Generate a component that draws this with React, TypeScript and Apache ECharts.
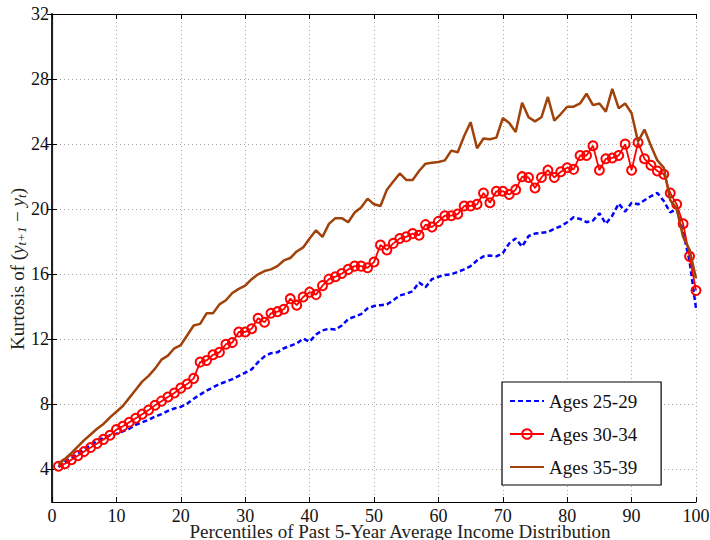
import React, { useEffect, useRef } from "react";
import * as echarts from "echarts";

// Percentile positions of the past 5-year average income distribution
const percentiles: number[] = Array.from({ length: 100 }, (_, i) => i + 1);

// Kurtosis of (y_{t+1} - y_t) by age group
const ages25to29: number[] = [
  4.15, 4.45, 4.7, 4.95, 5.25, 5.5, 5.75, 5.95, 6.1, 6.2,
  6.35, 6.5, 6.75, 6.9, 7.05, 7.25, 7.4, 7.6, 7.75, 7.85,
  8.05, 8.35, 8.6, 8.85, 9.05, 9.25, 9.4, 9.55, 9.75, 9.95,
  10.15, 10.6, 10.95, 11.15, 11.2, 11.45, 11.6, 11.75, 12.05, 11.85,
  12.3, 12.55, 12.65, 12.6, 12.85, 13.25, 13.4, 13.55, 13.9, 14.05,
  14.1, 14.15, 14.4, 14.7, 14.8, 14.95, 15.5, 15.2, 15.7, 15.85,
  15.95, 16.0, 16.15, 16.3, 16.5, 16.85, 17.1, 17.15, 17.1, 17.3,
  17.9, 18.2, 17.7, 18.35, 18.5, 18.55, 18.6, 18.8, 18.95, 19.2,
  19.5, 19.4, 19.2, 19.3, 19.75, 19.1, 19.6, 20.35, 19.85, 20.4,
  20.3, 20.55, 20.8, 21.0, 20.5, 19.8, 20.0, 18.6, 16.8, 13.9,
];

const ages30to34: number[] = [
  4.2, 4.35, 4.6, 4.85, 5.1, 5.35, 5.6, 5.85, 6.1, 6.45,
  6.65, 6.9, 7.15, 7.4, 7.65, 7.95, 8.2, 8.45, 8.7, 9.0,
  9.25, 9.6, 10.6, 10.7, 11.05, 11.2, 11.7, 11.8, 12.45, 12.45,
  12.65, 13.3, 13.05, 13.6, 13.7, 13.85, 14.5, 14.1, 14.6, 14.9,
  14.75, 15.3, 15.7, 15.85, 16.05, 16.3, 16.5, 16.5, 16.4, 16.75,
  17.8, 17.5, 17.9, 18.2, 18.3, 18.5, 18.4, 19.05, 18.9, 19.25,
  19.6, 19.6, 19.7, 20.2, 20.2, 20.3, 21.0, 20.4, 21.1, 21.1,
  20.9, 21.2, 22.0, 21.95, 21.3, 21.95, 22.4, 21.95, 22.3, 22.55,
  22.45, 23.3, 23.3, 23.9, 22.4, 23.1, 23.15, 23.3, 24.0, 22.4,
  24.1, 23.1, 22.7, 22.35, 22.15, 21.0, 20.3, 19.1, 17.1, 15.0,
];

const ages35to39: number[] = [
  4.3, 4.65, 5.0, 5.4, 5.8, 6.15, 6.5, 6.8, 7.2, 7.55,
  7.9, 8.4, 8.9, 9.4, 9.75, 10.2, 10.75, 11.0, 11.45, 11.65,
  12.25, 12.85, 12.95, 13.6, 13.6, 14.15, 14.4, 14.85, 15.1, 15.3,
  15.7, 16.0, 16.2, 16.3, 16.5, 16.85, 17.0, 17.4, 17.65, 18.2,
  18.7, 18.3, 19.1, 19.45, 19.45, 19.2, 19.8, 20.1, 20.65, 20.3,
  20.2, 21.2, 21.7, 22.2, 21.8, 21.8, 22.35, 22.8, 22.85, 22.9,
  23.0, 23.6, 23.5, 24.5, 25.35, 23.75, 24.35, 24.3, 24.4, 25.6,
  25.3, 24.75, 26.55, 25.65, 25.4, 25.65, 26.9, 25.45, 25.85, 26.3,
  26.3, 26.5, 27.1, 26.4, 26.5, 26.0, 27.4, 26.2, 26.5, 25.9,
  24.15, 24.9, 23.9, 23.0, 22.55, 20.55, 20.05, 18.3, 17.5, 15.75,
];

const seriesNames = ["Ages 25-29", "Ages 30-34", "Ages 35-39"];
const yTickValues = [4, 8, 12, 16, 20, 24, 28, 32];

const FONT = "'Liberation Serif', serif";

const pairs = (ys: number[]) => ys.map((y, i) => [percentiles[i], y]);

export default function App() {
  const ref = useRef<HTMLDivElement>(null);

  useEffect(() => {
    if (!ref.current) return;
    const chart = echarts.init(ref.current, undefined, { renderer: "svg" });

    const dotted = { color: "#a8a8a8", width: 1, type: [1, 3] as number[] };
    const axisLine = { show: true, lineStyle: { color: "#000", width: 1.2 } };
    const inwardTick = { show: true, inside: true, length: 5, lineStyle: { color: "#000", width: 1 } };
    const noMarker = { color: "rgba(0,0,0,0)", borderWidth: 0, opacity: 0 };

    chart.setOption({
      animation: false,
      backgroundColor: "#fff",
      textStyle: { fontFamily: FONT },
      grid: { left: 52, right: 14, top: 14, bottom: 38, containLabel: false, outerBoundsMode: "none" },
      legend: {
        data: [
          { name: seriesNames[0], itemStyle: noMarker },
          { name: seriesNames[1] },
          { name: seriesNames[2], itemStyle: noMarker },
        ],
        orient: "vertical",
        left: 502,
        top: 382,
        backgroundColor: "#fff",
        borderColor: "#000",
        borderWidth: 1.2,
        borderRadius: 0,
        padding: [9, 24, 8, 7],
        itemWidth: 34,
        itemHeight: 12,
        itemGap: 13,
        textStyle: { fontFamily: FONT, fontSize: 19, color: "#111", lineHeight: 20 },
      },
      xAxis: [
        {
          type: "value",
          min: 0,
          max: 100,
          interval: 10,
          position: "bottom",
          name: "Percentiles of Past 5-Year Average Income Distribution",
          nameLocation: "middle",
          nameGap: 21,
          nameMoveOverlap: false,
          nameTextStyle: {
            fontFamily: FONT,
            fontSize: 19,
            lineHeight: 17,
            color: "#222",
            padding: [0, 0, 0, 52],
          },
          axisLine,
          axisTick: inwardTick,
          axisLabel: { fontFamily: FONT, fontSize: 18, lineHeight: 15, color: "#111", margin: 6 },
          splitLine: { show: true, lineStyle: dotted },
        },
        {
          type: "value",
          min: 0,
          max: 100,
          interval: 10,
          position: "top",
          axisLine,
          axisTick: inwardTick,
          axisLabel: { show: false },
          splitLine: { show: false },
        },
      ],
      yAxis: [
        {
          type: "value",
          min: 2,
          max: 32,
          position: "left",
          name: "Kurtosis of ({i|y}{sub|t+1} − {i|y}{sub|t})",
          nameLocation: "middle",
          nameGap: 24,
          nameRotate: 90,
          nameMoveOverlap: false,
          nameTextStyle: {
            fontFamily: FONT,
            fontSize: 19,
            color: "#222",
            lineHeight: 22,
            padding: [0, 22, 0, 0],
            rich: {
              i: { fontFamily: FONT, fontSize: 19, fontStyle: "italic", color: "#222", lineHeight: 22 },
              sub: { fontFamily: FONT, fontSize: 13, fontStyle: "italic", color: "#222", lineHeight: 10, verticalAlign: "bottom" },
            },
          },
          axisLine,
          axisTick: { ...inwardTick, customValues: yTickValues },
          axisLabel: { fontFamily: FONT, fontSize: 18, color: "#111", margin: 3, customValues: yTickValues },
          splitLine: { show: true, lineStyle: dotted },
        },
        {
          type: "value",
          min: 2,
          max: 32,
          position: "right",
          axisLine: { show: true, lineStyle: { color: "#222", width: 2 } },
          axisTick: { ...inwardTick, customValues: yTickValues },
          axisLabel: { show: false },
          splitLine: { show: false },
        },
      ],
      series: [
        {
          name: seriesNames[0],
          type: "line",
          data: pairs(ages25to29),
          symbol: "none",
          lineStyle: { color: "#0000ff", width: 2.5, type: [5, 3] },
          itemStyle: { color: "#0000ff" },
          z: 2,
        },
        {
          name: seriesNames[1],
          type: "line",
          data: pairs(ages30to34),
          symbol: "circle",
          symbolSize: 9,
          showAllSymbol: true,
          lineStyle: { color: "#ff0000", width: 1.8 },
          itemStyle: { color: "rgba(255,255,255,0)", borderColor: "#ff0000", borderWidth: 2 },
          z: 3,
        },
        {
          name: seriesNames[2],
          type: "line",
          data: pairs(ages35to39),
          symbol: "none",
          lineStyle: { color: "#a0420a", width: 2.5 },
          itemStyle: { color: "#a0420a" },
          z: 4,
        },
      ],
    });

    return () => chart.dispose();
  }, []);

  return <div ref={ref} style={{ width: 710, height: 540, position: "absolute", left: 0, top: 0 }} />;
}
